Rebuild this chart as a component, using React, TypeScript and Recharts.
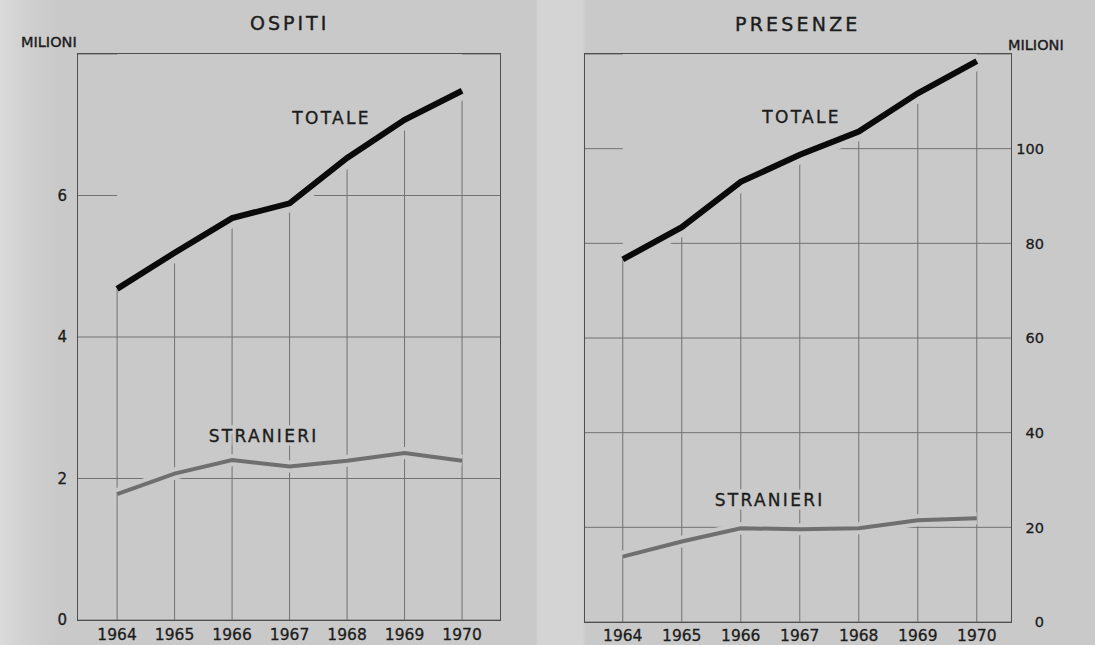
import {
  ComposedChart,
  Line,
  Area,
  XAxis,
  YAxis,
  CartesianGrid,
  ReferenceDot,
  ReferenceLine,
} from 'recharts';

const years = [1964, 1965, 1966, 1967, 1968, 1969, 1970];
const ospitiTotale = [4.68, 5.19, 5.68, 5.89, 6.53, 7.07, 7.48];
const ospitiStranieri = [1.78, 2.07, 2.26, 2.17, 2.25, 2.36, 2.25];
const presenzeTotale = [76.6, 83.4, 93.0, 98.7, 103.6, 111.7, 118.5];
const presenzeStranieri = [13.8, 17.0, 19.8, 19.6, 19.8, 21.5, 21.9];
const ospitiTicks = [0, 2, 4, 6];
const presenzeTicks = [0, 20, 40, 60, 80, 100];

const BG = '#c9c9c9';
const FONT = '"DejaVu Sans", sans-serif';
const INK = '#1c1c1c';
const GRID = '#727272';
const HEIGHT = 645;

const LineLabel = ({ viewBox, text }: any) => {
  const x = viewBox.x + (viewBox.width || 0) / 2;
  const y = viewBox.y + (viewBox.height || 0) / 2;
  const common = {
    x,
    y,
    dy: '0.36em',
    textAnchor: 'middle' as const,
    fontFamily: FONT,
    fontSize: 17,
    letterSpacing: 2.3,
  };
  return (
    <g>
      <text {...common} fill={BG} stroke={BG} strokeWidth={7}>
        {text}
      </text>
      <text {...common} fill={INK} stroke={INK} strokeWidth={0.35}>
        {text}
      </text>
    </g>
  );
};

interface PanelProps {
  totale: number[];
  stranieri: number[];
  ticks: number[];
  top: number;
  xDomain: [number, number];
  right?: boolean;
  width: number;
  margin: { top: number; left: number; right: number; bottom: number };
  yWidth: number;
  xHeight: number;
  tickMarginX: number;
  totaleAt: [number, number];
  stranieriAt: [number, number];
}

function Panel(p: PanelProps) {
  const data = years.map((y, i) => ({ year: y, totale: p.totale[i], stranieri: p.stranieri[i] }));

  const rightTick = ({ x, y, payload }: any) => (
    <text
      x={x + 33}
      y={y}
      dy="0.36em"
      textAnchor="end"
      fontFamily={FONT}
      fontSize={14.5}
      fill={INK}
      stroke={INK}
      strokeWidth={0.3}
    >
      {payload.value}
    </text>
  );

  // plot frame, drawn over the chart
  const frameLeft = p.margin.left + (p.right ? 0 : p.yWidth);
  const frameRight = p.width - p.margin.right - (p.right ? p.yWidth : 0);
  const frameBottom = HEIGHT - p.margin.bottom - p.xHeight;

  return (
    <div style={{ position: 'relative', width: p.width, height: HEIGHT }}>
      <ComposedChart width={p.width} height={HEIGHT} data={data} margin={p.margin}>
        <CartesianGrid stroke={GRID} strokeWidth={1} vertical={false} />
        <XAxis
          dataKey="year"
          type="number"
          domain={p.xDomain}
          ticks={years}
          height={p.xHeight}
          axisLine={false}
          tickLine={false}
          tickSize={0}
          tickMargin={p.tickMarginX}
          tick={{ fill: INK, fontSize: 15.5, fontFamily: FONT, stroke: INK, strokeWidth: 0.3 }}
        />
        <YAxis
          type="number"
          domain={[0, p.top]}
          ticks={p.ticks}
          orientation={p.right ? 'right' : 'left'}
          width={p.yWidth}
          axisLine={false}
          tickLine={false}
          tickSize={0}
          tickMargin={p.right ? 0 : 11}
          tick={p.right ? rightTick : { fill: INK, fontSize: 15, fontFamily: FONT, stroke: INK, strokeWidth: 0.3 }}
        />
        {/* year rules run from the base up to the TOTALE curve */}
        {data.map((d) => (
          <ReferenceLine
            key={d.year}
            segment={[
              { x: d.year, y: 0 },
              { x: d.year, y: d.totale },
            ]}
            stroke={GRID}
            strokeWidth={1}
          />
        ))}
        {/* hide the grid above the TOTALE curve, as in the printed chart */}
        <Area
          dataKey="totale"
          baseValue={p.top}
          fill={BG}
          fillOpacity={1}
          stroke="none"
          isAnimationActive={false}
        />
        <Line dataKey="totale" stroke={BG} strokeWidth={18} dot={false} isAnimationActive={false} />
        <Line dataKey="stranieri" stroke={BG} strokeWidth={12} dot={false} isAnimationActive={false} />
        <Line dataKey="stranieri" stroke="#6f6f6f" strokeWidth={4} dot={false} isAnimationActive={false} />
        <Line dataKey="totale" stroke="#0a0a0a" strokeWidth={6} dot={false} isAnimationActive={false} />
        <ReferenceDot
          x={p.totaleAt[0]}
          y={p.totaleAt[1]}
          r={0}
          stroke="none"
          label={<LineLabel text="TOTALE" />}
        />
        <ReferenceDot
          x={p.stranieriAt[0]}
          y={p.stranieriAt[1]}
          r={0}
          stroke="none"
          label={<LineLabel text="STRANIERI" />}
        />
      </ComposedChart>
      <div
        style={{
          position: 'absolute',
          left: frameLeft - 1,
          top: p.margin.top - 1,
          width: frameRight - frameLeft,
          height: frameBottom - p.margin.top,
          border: '1.5px solid #4e4e4e',
          pointerEvents: 'none',
        }}
      />
    </div>
  );
}

const textStyle = (left: number, top: number, size: number, spacing: number) => ({
  position: 'absolute' as const,
  left,
  top,
  fontFamily: FONT,
  fontSize: size,
  letterSpacing: spacing,
  color: INK,
  lineHeight: 1,
  whiteSpace: 'nowrap' as const,
  WebkitTextStroke: '0.4px ' + INK,
});

export default function App() {
  return (
    <div
      style={{
        position: 'absolute',
        left: 0,
        top: 0,
        width: 1095,
        height: 645,
        overflow: 'hidden',
        background: `linear-gradient(to right, #dadada 0px, #cfcfcf 30px, ${BG} 60px, ${BG} 536px, #d4d4d4 538px, #d4d4d4 582px, ${BG} 586px, ${BG} 1095px)`,
      }}
    >
      <div style={{ position: 'absolute', left: 0, top: 0 }}>
        <Panel
          totale={ospitiTotale}
          stranieri={ospitiStranieri}
          ticks={ospitiTicks}
          top={8}
          xDomain={[1963.32, 1970.66]}
          width={540}
          margin={{ top: 54, left: 38, right: 40, bottom: 0 }}
          yWidth={40}
          xHeight={25}
          tickMarginX={9}
          totaleAt={[1967.73, 7.1]}
          stranieriAt={[1966.55, 2.6]}
        />
      </div>
      <div style={{ position: 'absolute', left: 540, top: 0 }}>
        <Panel
          totale={presenzeTotale}
          stranieri={presenzeStranieri}
          ticks={presenzeTicks}
          top={120}
          xDomain={[1963.36, 1970.58]}
          right
          width={555}
          margin={{ top: 54, left: 45, right: 0, bottom: 0 }}
          yWidth={84}
          xHeight={23}
          tickMarginX={8}
          totaleAt={[1967.03, 106.8]}
          stranieriAt={[1966.49, 25.7]}
        />
      </div>
      <div style={textStyle(250, 14, 19, 3)}>OSPITI</div>
      <div style={textStyle(735, 15, 19, 3.2)}>PRESENZE</div>
      <div style={textStyle(21, 35, 14.5, 0)}>MILIONI</div>
      <div style={textStyle(1008, 38, 14.5, 0)}>MILIONI</div>
    </div>
  );
}
